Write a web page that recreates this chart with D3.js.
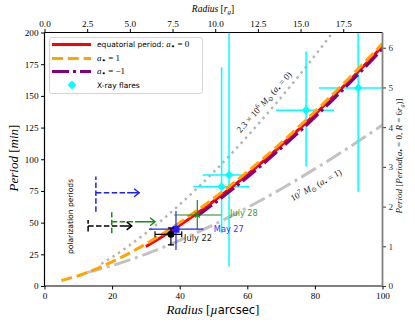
<!DOCTYPE html>
<html>
<head>
<meta charset="utf-8">
<script src="https://cdn.jsdelivr.net/npm/d3@7"></script>
<style>
body { margin: 0; background: #fff; }
svg { display: block; }
</style>
</head>
<body>
<svg id="chart" width="415" height="325"></svg>
<script>
// orbital period curves, radius in µarcsec, period in min
var eqRadius = [30, 35, 40, 45, 50, 55, 60, 65, 70, 75, 80, 85, 90, 95, 100]
var eqPeriod = [31.1, 39.2, 47.9, 57.1, 66.9, 77.2, 87.9, 99.1, 110.8, 122.9, 135.4, 148.3, 161.5, 175.2, 189.2]
var spinUpRadius = [5, 10, 15, 20, 25, 30, 35, 40, 45, 50, 55, 60, 65, 70, 75, 80, 85, 90, 95, 100]
var spinUpPeriod = [4.3, 8.1, 13.1, 19.1, 25.8, 33.2, 41.3, 50.0, 59.3, 69.0, 79.3, 90.1, 101.3, 112.9, 125.0, 137.5, 150.4, 163.7, 177.3, 191.3]
var spinDownRadius = [45.5, 50, 55, 60, 65, 70, 75, 80, 85, 90, 95, 100]
var spinDownPeriod = [55.8, 64.7, 75.0, 85.8, 97.0, 108.7, 120.7, 133.2, 146.1, 159.4, 173.0, 187.0]
var lowMassRadius = [16.8, 20, 25, 30, 35, 40, 45, 50, 55, 60, 65, 70, 75, 80, 85, 86]
var lowMassPeriod = [17.5, 22.7, 31.8, 41.8, 52.6, 64.3, 76.7, 89.8, 103.6, 118.1, 133.2, 148.8, 165.0, 181.8, 199.1, 202.6]
var highMassRadius = [12.2, 15, 20, 25, 30, 40, 50, 60, 70, 80, 90, 100]
var highMassPeriod = [10.3, 12.3, 16.1, 20.4, 25.2, 36.0, 48.3, 61.8, 76.5, 92.4, 109.2, 127.0]

// X-ray flares
var flareRadius = [52.4, 54.6, 77.4, 92.8]
var flarePeriod = [78.4, 87.6, 138.7, 156.3]
var flareRadiusLo = [44.0, 46.8, 68.5, 81.2]
var flareRadiusHi = [60.6, 61.0, 85.7, 101]
var flarePeriodLo = [41.6, 15.2, 94.2, 74.4]
var flarePeriodHi = [172.6, 210, 185.0, 210]

// polarization periods (lower limits on radius)
var polDates = ["May 27", "July 28", "July 22"]
var polColors = ["#1f1fff", "#1a8a1a", "#000000"]
var polRadius = [15.2, 19.9, 12.9]
var polRadiusTip = [28.0, 32.7, 25.8]
var polPeriod = [73.6, 50.7, 47.4]
var polPeriodLo = [58.6, 41.6, 42.9]
var polPeriodHi = [86.3, 58.2, 52.1]

// flare positions from the astrometry
var crossRadius = [38.9, 45.2, 37.4]
var crossPeriod = [44.8, 56.0, 40.8]
var crossRadiusLo = [30.9, 38.4, 32.7]
var crossRadiusHi = [47.0, 52.2, 40.6]
var crossPeriodLo = [28.4, 44.2, 32.4]
var crossPeriodHi = [59.2, 67.9, 45.8]
var labelRadius = [50.1, 54.9, 41.3]
var labelPeriod = [45.0, 57.6, 38.1]

// axes
var bottomTicks = [0, 20, 40, 60, 80, 100]
var leftTicks = [0, 25, 50, 75, 100, 125, 150, 175, 200]
var topTicks = [0, 2.5, 5, 7.5, 10, 12.5, 15, 17.5]
var rightTicks = [0, 1, 2, 3, 4, 5, 6]
var radiusMaxRg = 19.8
var periodMaxUnit = 6.384

var plotL = 44.5, plotR = 382.5, plotT = 32.5, plotB = 286

var svg = d3.select("#chart")
var serif = "'Liberation Serif', 'DejaVu Serif', serif"
var sans = "'DejaVu Sans', sans-serif"

var x = d3.scaleLinear().domain([0, 100]).range([plotL, plotR])
var y = d3.scaleLinear().domain([0, 200]).range([plotB, plotT])
var xTop = d3.scaleLinear().domain([0, radiusMaxRg]).range([plotL, plotR])
var yRight = d3.scaleLinear().domain([0, periodMaxUnit]).range([plotB, plotT])

svg.append("clipPath").attr("id", "plotClip")
  .append("rect")
  .attr("x", plotL).attr("y", plotT)
  .attr("width", plotR - plotL).attr("height", plotB - plotT)

var plot = svg.append("g").attr("clip-path", "url(#plotClip)")

var line = d3.line()
  .x(function(d) { return x(d[0]) })
  .y(function(d) { return y(d[1]) })
  .curve(d3.curveMonotoneX)

function drawCurve(rs, ps, color, width, dash) {
  var pts = rs.map(function(r, i) { return [r, ps[i]] })
  plot.append("path")
    .attr("d", line(pts))
    .attr("fill", "none")
    .attr("stroke", color)
    .attr("stroke-width", width)
    .attr("stroke-dasharray", dash)
}

// grey mass curves
drawCurve(lowMassRadius, lowMassPeriod, "#b5b5b5", 2.5, "2.5,4.1")
drawCurve(highMassRadius, highMassPeriod, "#c2c2c2", 3, "17,4.8,3,4.8")

// flares
var flareColor = "#00ffff"
flareRadius.forEach(function(r, i) {
  plot.append("line")
    .attr("x1", x(flareRadiusLo[i])).attr("x2", x(flareRadiusHi[i]))
    .attr("y1", y(flarePeriod[i])).attr("y2", y(flarePeriod[i]))
    .attr("stroke", flareColor).attr("stroke-width", 1.5)
  plot.append("line")
    .attr("x1", x(r)).attr("x2", x(r))
    .attr("y1", y(flarePeriodLo[i])).attr("y2", y(flarePeriodHi[i]))
    .attr("stroke", flareColor).attr("stroke-width", 1.5)
  plot.append("path")
    .attr("d", d3.symbol().type(d3.symbolDiamond2).size(48)())
    .attr("transform", "translate(" + x(r) + "," + y(flarePeriod[i]) + ")")
    .attr("fill", flareColor)
})

// spin curves
drawCurve(eqRadius, eqPeriod, "#ff0000", 3, null)
drawCurve(spinUpRadius, spinUpPeriod, "#ffa500", 3, "11,4.8")
drawCurve(spinDownRadius, spinDownPeriod, "#800080", 3, "17,4,3,4")

// polarization arrows
polDates.forEach(function(d, i) {
  var c = polColors[i]
  var x0 = x(polRadius[i]), x1 = x(polRadiusTip[i]), yy = y(polPeriod[i])
  var solid = i == 1 ? 20 : 12
  plot.append("line")
    .attr("x1", x0).attr("x2", x0)
    .attr("y1", y(polPeriodLo[i])).attr("y2", y(polPeriodHi[i]))
    .attr("stroke", c).attr("stroke-width", 1.5).attr("stroke-dasharray", "5.5,2.4")
  plot.append("line")
    .attr("x1", x0).attr("x2", x1 - solid)
    .attr("y1", yy).attr("y2", yy)
    .attr("stroke", c).attr("stroke-width", 1.5).attr("stroke-dasharray", "5.5,2.4")
  plot.append("line")
    .attr("x1", x1 - solid).attr("x2", x1)
    .attr("y1", yy).attr("y2", yy)
    .attr("stroke", c).attr("stroke-width", 1.5)
  plot.append("path")
    .attr("d", "M" + (x1 - 5) + "," + (yy - 4) + "L" + x1 + "," + yy + "L" + (x1 - 5) + "," + (yy + 4))
    .attr("fill", "none").attr("stroke", c).attr("stroke-width", 1.5)
})

// flare position crosses
polDates.forEach(function(d, i) {
  var c = polColors[i]
  var cx = x(crossRadius[i]), cy = y(crossPeriod[i])
  var g = plot.append("g").attr("stroke", c).attr("stroke-width", 1.2)
  g.append("line")
    .attr("x1", x(crossRadiusLo[i])).attr("x2", x(crossRadiusHi[i]))
    .attr("y1", cy).attr("y2", cy)
  g.append("line")
    .attr("x1", cx).attr("x2", cx)
    .attr("y1", y(crossPeriodLo[i])).attr("y2", y(crossPeriodHi[i]))
  if (i == 2) {
    // caps on the black one
    g.append("line").attr("x1", x(crossRadiusLo[i])).attr("x2", x(crossRadiusLo[i]))
      .attr("y1", cy - 3).attr("y2", cy + 3)
    g.append("line").attr("x1", x(crossRadiusHi[i])).attr("x2", x(crossRadiusHi[i]))
      .attr("y1", cy - 3).attr("y2", cy + 3)
    g.append("line").attr("x1", cx - 3).attr("x2", cx + 3)
      .attr("y1", y(crossPeriodLo[i])).attr("y2", y(crossPeriodLo[i]))
    g.append("line").attr("x1", cx - 3).attr("x2", cx + 3)
      .attr("y1", y(crossPeriodHi[i])).attr("y2", y(crossPeriodHi[i]))
    plot.append("circle").attr("cx", cx).attr("cy", cy).attr("r", 3.5).attr("fill", c)
  } else if (i == 0) {
    plot.append("rect").attr("x", cx - 3.5).attr("y", cy - 3.5)
      .attr("width", 7).attr("height", 7).attr("fill", c)
  } else {
    g.append("path")
      .attr("d", "M" + (cx - 2.5) + "," + (cy - 2.5) + "L" + (cx + 2.5) + "," + (cy + 2.5) +
        "M" + (cx - 2.5) + "," + (cy + 2.5) + "L" + (cx + 2.5) + "," + (cy - 2.5))
  }
  svg.append("text")
    .attr("x", x(labelRadius[i])).attr("y", y(labelPeriod[i]))
    .attr("dy", "0.35em")
    .attr("font-family", sans).attr("font-size", 8.2)
    .attr("fill", i == 0 ? "#3535ff" : (i == 1 ? "#3a9a3a" : "#222"))
    .text(d)
})

// annotations
svg.append("text")
  .attr("transform", "translate(70,216.5) rotate(-90)")
  .attr("text-anchor", "middle").attr("dy", "0.35em")
  .attr("font-family", sans).attr("font-size", 7.6)
  .text("polarization periods")

function massLabel(tx, ty, angle, exp, spin) {
  var t = svg.append("text")
    .attr("transform", "translate(" + tx + "," + ty + ") rotate(" + angle + ")")
    .attr("text-anchor", "middle").attr("dy", "0.35em")
    .attr("font-family", serif).attr("font-size", 9).attr("fill", "#222")
  t.append("tspan").text(exp == 6 ? "2.3 × 10" : "10")
  t.append("tspan").attr("dy", -3.5).attr("font-size", 6.5).text(exp)
  t.append("tspan").attr("dy", 3.5).attr("font-style", "italic").text(" M")
  t.append("tspan").attr("dy", 2).attr("font-size", 6.5).text("⊙")
  t.append("tspan").attr("dy", -2).text(" (")
  t.append("tspan").attr("font-style", "italic").text("a")
  t.append("tspan").attr("dy", 2).attr("font-size", 7.5).text("•")
  t.append("tspan").attr("dy", -2).text(" = " + spin + ")")
}
massLabel(264, 102, -48.5, 6, 0)
massLabel(316, 185, -29, 7, 1)

// axes
function styleAxis(g, color) {
  g.selectAll("text").attr("font-family", serif).attr("font-size", 9.2).attr("fill", color)
  g.selectAll("line").attr("stroke", color)
  g.select(".domain").remove()
}

svg.append("g").attr("transform", "translate(0," + plotB + ")")
  .call(d3.axisBottom(x).tickValues(bottomTicks).tickSize(3.5).tickPadding(3).tickFormat(d3.format("d")))
  .call(styleAxis, "#000")
svg.append("g").attr("transform", "translate(" + plotL + ",0)")
  .call(d3.axisLeft(y).tickValues(leftTicks).tickSize(3.5).tickPadding(2.5).tickFormat(d3.format("d")))
  .call(styleAxis, "#000")
svg.append("g").attr("transform", "translate(0," + plotT + ")")
  .call(d3.axisTop(xTop).tickValues(topTicks).tickSize(3.5).tickPadding(2.5).tickFormat(d3.format(".1f")))
  .call(styleAxis, "#000")
svg.append("g").attr("transform", "translate(" + plotR + ",0)")
  .call(d3.axisRight(yRight).tickValues(rightTicks).tickSize(3.5).tickPadding(2.5).tickFormat(d3.format("d")))
  .call(styleAxis, "#333")

// spines
svg.append("line").attr("x1", plotL).attr("x2", plotR).attr("y1", plotB).attr("y2", plotB)
  .attr("stroke", "#000").attr("stroke-width", 1.2)
svg.append("line").attr("x1", plotL).attr("x2", plotR).attr("y1", plotT).attr("y2", plotT)
  .attr("stroke", "#000").attr("stroke-width", 1.2)
svg.append("line").attr("x1", plotL).attr("x2", plotL).attr("y1", plotT).attr("y2", plotB)
  .attr("stroke", "#000").attr("stroke-width", 1.2)
svg.append("line").attr("x1", plotR).attr("x2", plotR).attr("y1", plotT).attr("y2", plotB)
  .attr("stroke", "#808080").attr("stroke-width", 1.8)

// axis labels
var xl = svg.append("text").attr("x", 213).attr("y", 314)
  .attr("text-anchor", "middle").attr("font-family", serif).attr("font-size", 13)
xl.append("tspan").attr("font-style", "italic").text("Radius ")
xl.append("tspan").text("[")
xl.append("tspan").attr("font-style", "italic").text("µ")
xl.append("tspan").attr("font-family", sans).attr("font-size", 11.5).text("arcsec")
xl.append("tspan").text("]")

var yl = svg.append("text").attr("transform", "translate(18,158) rotate(-90)")
  .attr("text-anchor", "middle").attr("font-family", serif).attr("font-size", 13)
yl.append("tspan").attr("font-style", "italic").text("Period ")
yl.append("tspan").text("[")
yl.append("tspan").attr("font-style", "italic").text("min")
yl.append("tspan").text("]")

var tl = svg.append("text").attr("x", 213).attr("y", 12)
  .attr("text-anchor", "middle").attr("font-family", serif).attr("font-size", 9.5)
tl.append("tspan").attr("font-style", "italic").text("Radius ")
tl.append("tspan").text("[")
tl.append("tspan").attr("font-style", "italic").text("r")
tl.append("tspan").attr("font-style", "italic").attr("dy", 2).attr("font-size", 7).text("g")
tl.append("tspan").attr("dy", -2).text("]")

var rl = svg.append("text").attr("transform", "translate(402,156) rotate(-90)")
  .attr("text-anchor", "middle").attr("font-family", serif).attr("font-size", 9).attr("fill", "#222")
rl.append("tspan").attr("font-style", "italic").text("Period ")
rl.append("tspan").text("[")
rl.append("tspan").attr("font-style", "italic").text("Period")
rl.append("tspan").text("(")
rl.append("tspan").attr("font-style", "italic").text("a")
rl.append("tspan").attr("dy", 2).attr("font-size", 7.5).text("•")
rl.append("tspan").attr("dy", -2).text(" = 0, ")
rl.append("tspan").attr("font-style", "italic").text("R")
rl.append("tspan").text(" = 6")
rl.append("tspan").attr("font-style", "italic").text("r")
rl.append("tspan").attr("font-style", "italic").attr("dy", 2).attr("font-size", 6).text("g")
rl.append("tspan").attr("dy", -2).text(")]")

// legend
var legend = svg.append("g")
legend.append("rect")
  .attr("x", 49.5).attr("y", 37.5).attr("width", 153).attr("height", 56).attr("rx", 2)
  .attr("fill", "#fff").attr("fill-opacity", 0.8).attr("stroke", "#cccccc").attr("stroke-width", 0.8)

var legendRows = [
  {color: "#ff0000", dash: null, prefix: "equatorial period: ", spin: "0"},
  {color: "#ffa500", dash: "11,4.8", prefix: "", spin: "1"},
  {color: "#800080", dash: "17,4,3,4", prefix: "", spin: "−1"}
]
var rowY = [44.5, 58.5, 71.5, 85]
legendRows.forEach(function(r, i) {
  legend.append("line")
    .attr("x1", 52).attr("x2", 91).attr("y1", rowY[i]).attr("y2", rowY[i])
    .attr("stroke", r.color).attr("stroke-width", 3).attr("stroke-dasharray", r.dash)
  var t = legend.append("text").attr("x", 97).attr("y", rowY[i]).attr("dy", "0.35em")
    .attr("font-family", sans).attr("font-size", 7.5)
  if (r.prefix) t.append("tspan").text(r.prefix)
  t.append("tspan").attr("font-family", serif).attr("font-style", "italic").attr("font-size", 9).text("a")
  t.append("tspan").attr("font-size", 7.5).attr("dy", 2).text("•")
  t.append("tspan").attr("font-family", serif).attr("font-size", 9).attr("dy", -2).text(" = " + r.spin)
})
legend.append("path")
  .attr("d", d3.symbol().type(d3.symbolDiamond2).size(50)())
  .attr("transform", "translate(72," + rowY[3] + ")")
  .attr("fill", flareColor)
legend.append("text").attr("x", 97).attr("y", rowY[3]).attr("dy", "0.35em")
  .attr("font-family", sans).attr("font-size", 7.5).text("X-ray flares")
</script>
</body>
</html>
